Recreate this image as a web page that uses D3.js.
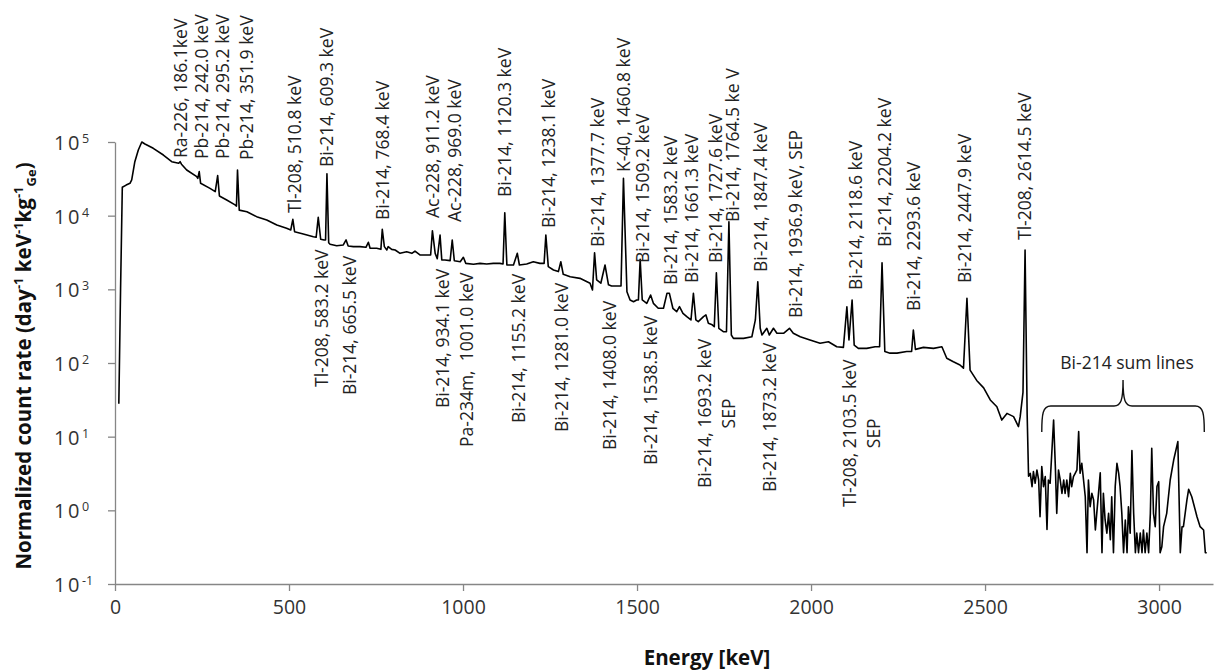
<!DOCTYPE html>
<html>
<head>
<meta charset="utf-8">
<script src="https://cdn.jsdelivr.net/npm/d3@7"></script>
<style>
  body { margin: 0; background: #fff; }
  svg { display: block; font-family: "Open Sans", sans-serif; }
</style>
</head>
<body>
<svg id="chart" width="1217" height="672"></svg>
<script>
// gamma spectrum: [energy keV, count rate]
const spectrum = [
  [11,28],[16,1000],[21,24300],[32,26000],[43,27500],[48,30500],[57,54100],[67,77900],[77,100000],[86,94000],
  [110,82100],[139,66600],[163,54100],[183,51400],[187,54100],[191,50000],[206,41700],[235,33800],[238,32100],[242,39600],
  [246,27500],[273,23500],[288,21200],[295,35000],[300,18500],[321,16300],[345,14000],[349,13500],[352,41700],[357,11900],
  [379,11300],[407,9700],[436,8740],[465,7470],[493,6740],[505,6390],[511,8900],[516,6060],[541,5640],[570,5180],
  [578,5090],[584,9500],[591,4780],[601,4680],[605,4680],[609,37000],[614,4300],[618,4100],[637,3900],[656,4000],
  [664,4680],[670,3870],[685,3800],[704,3800],[721,3720],[728,4350],[733,3610],[752,3610],[764,3490],[768,6530],
  [774,3800],[781,3420],[785,3800],[795,3490],[805,3420],[819,3080],[838,3240],[853,3080],[862,3310],[877,2920],
  [900,2920],[907,2920],[912,6250],[920,3080],[926,2600],[934,5470],[939,2500],[948,2500],[963,2450],[969,4680],
  [975,2450],[992,2370],[1001,2720],[1008,2250],[1030,2190],[1049,2250],[1068,2210],[1087,2250],[1106,2250],[1115,2210],
  [1120,10970],[1126,2140],[1145,2140],[1156,3080],[1162,2140],[1183,2210],[1202,2370],[1221,2250],[1233,2250],[1238,5470],
  [1245,2030],[1260,1830],[1274,1740],[1281,2370],[1288,1600],[1308,1480],[1336,1410],[1365,1210],[1372,980],[1378,3140],
  [1384,1340],[1396,1210],[1408,2140],[1418,1150],[1427,1110],[1447,1110],[1454,1110],[1461,32100],[1471,929],[1480,717],
  [1490,680],[1499,717],[1504,717],[1509,2560],[1515,717],[1528,645],[1539,838],[1547,645],[1561,553],[1576,553],
  [1586,883],[1593,883],[1603,553],[1614,498],[1622,581],[1632,473],[1643,426],[1655,384],[1662,883],[1669,384],
  [1676,364],[1691,426],[1698,449],[1705,346],[1716,330],[1722,311],[1728,1680],[1735,296],[1748,266],[1757,266],
  [1764,8280],[1771,240],[1777,216],[1806,216],[1830,227],[1840,384],[1847,1270],[1854,296],[1859,240],[1873,296],
  [1880,240],[1892,296],[1902,253],[1921,253],[1938,296],[1949,253],[1969,227],[1997,205],[2026,185],[2050,194],
  [2074,166],[2093,163],[2103,581],[2109,205],[2118,717],[2124,175],[2136,158],[2160,158],[2184,166],[2197,166],
  [2204,2300],[2212,143],[2227,136],[2247,136],[2275,143],[2289,143],[2294,280],[2300,153],[2323,163],[2352,158],
  [2376,166],[2390,116],[2409,104],[2428,94],[2438,85],[2448,755],[2457,80],[2476,58],[2496,46],[2515,31.5],
  [2534,25.5],[2548,16.8],[2563,20.7],[2582,18.7],[2596,13.7],[2601,18.7],[2609,40],[2615,3420],[2621,20],[2625,2.9],
  [2630,3.18],[2635,2.10],[2639,3.35],[2644,2.33],[2649,3.53],[2654,2.58],[2658,0.82],[2663,3.92],[2668,2.10],[2673,2.87],
  [2678,0.55],[2682,2.58],[2687,2.33],[2697,16.8],[2702,3.92],[2706,0.91],[2711,3.53],[2716,2.58],[2721,1.70],[2726,2.58],
  [2730,1.70],[2735,2.58],[2740,1.53],[2745,3.18],[2749,2.10],[2754,2.87],[2759,3.18],[2764,3.53],[2769,11.7],[2773,3.18],
  [2778,4.35],[2783,2.58],[2788,1.53],[2793,0.266],[2797,2.58],[2802,1.12],[2807,1.70],[2812,1.38],[2817,0.54],[2821,0.91],
  [2826,1.70],[2831,3.24],[2836,0.266],[2840,1.70],[2845,0.74],[2850,0.49],[2855,0.91],[2860,0.40],[2864,1.53],[2869,0.266],
  [2874,2.10],[2879,4.35],[2884,3.18],[2888,2.10],[2893,0.91],[2898,0.266],[2903,0.74],[2908,0.266],[2912,1.12],[2917,0.49],
  [2922,6.46],[2927,0.91],[2932,0.266],[2936,0.49],[2941,0.266],[2946,0.49],[2951,0.266],[2955,0.54],[2960,0.266],[2965,0.49],
  [2970,0.266],[2975,0.91],[2979,6.95],[2984,0.91],[2989,0.60],[2994,2.10],[2999,2.45],[3003,0.266],[3008,0.32],[3013,0.60],
  [3022,0.91],[3032,2.58],[3042,4.82],[3054,8.56],[3061,0.266],[3066,0.60],[3070,0.60],[3080,1.38],[3085,1.93],[3094,1.53],
  [3109,0.82],[3118,0.60],[3128,0.54],[3133,0.266],[3137,0.266]
]

const xTicks = [0, 500, 1000, 1500, 2000, 2500, 3000]
const yExponents = [-1, 0, 1, 2, 3, 4, 5]

// peak labels written above the trace: [text, line energy]
const labelsAbove = [
  ["Ra-226, 186.1keV", 186.1], ["Pb-214, 242.0 keV", 242.0], ["Pb-214, 295.2 keV", 295.2],
  ["Pb-214, 351.9 keV", 351.9], ["Tl-208, 510.8 keV", 510.8], ["Bi-214, 609.3 keV", 609.3],
  ["Bi-214, 768.4 keV", 768.4], ["Ac-228, 911.2 keV", 911.2], ["Ac-228, 969.0 keV", 969.0],
  ["Bi-214, 1120.3 keV", 1120.3], ["Bi-214, 1238.1 keV", 1238.1], ["Bi-214, 1377.7 keV", 1377.7],
  ["K-40, 1460.8 keV", 1460.8], ["Bi-214, 1509.2 keV", 1509.2], ["Bi-214, 1583.2 keV", 1583.2],
  ["Bi-214, 1661.3 keV", 1661.3], ["Bi-214, 1727.6 keV", 1727.6], ["Bi-214, 1764.5 ke V", 1764.5],
  ["Bi-214, 1847.4 keV", 1847.4], ["Bi-214, 1936.9 keV, SEP", 1936.9], ["Bi-214, 2118.6 keV", 2118.6],
  ["Bi-214, 2204.2 keV", 2204.2], ["Bi-214, 2293.6 keV", 2293.6], ["Bi-214, 2447.9 keV", 2447.9],
  ["Tl-208, 2614.5 keV", 2614.5]
]
// peak labels written below the trace: [text, line energy, second line]
const labelsBelow = [
  ["Tl-208, 583.2 keV", 583.2, ""], ["Bi-214, 665.5 keV", 665.5, ""], ["Bi-214, 934.1 keV", 934.1, ""],
  ["Pa-234m,  1001.0 keV", 1001.0, ""], ["Bi-214, 1155.2 keV", 1155.2, ""], ["Bi-214, 1281.0 keV", 1281.0, ""],
  ["Bi-214, 1408.0 keV", 1408.0, ""], ["Bi-214, 1538.5 keV", 1538.5, ""], ["Bi-214, 1693.2 keV", 1693.2, "SEP"],
  ["Bi-214, 1873.2 keV", 1873.2, ""], ["Tl-208, 2103.5 keV", 2103.5, "SEP"]
]
const sumLinesLabel = "Bi-214 sum lines"
const sumLinesRange = [2663, 3130]

// label layout: [x nudge px, bottom of text px]
const aboveLayout = [
  [1,158],[2.5,159],[5,159],[9,160],[2,213],[0,167],[0,220],[1,218],[2,222],[0,197],[2.5,228],[3,247],[0,172],
  [2.5,263],[5,285],[-1,283],[-1,263],[4,222],[3,272],[7,318],[3,290],[3,247],[0,311],[-2,283],[0,240]
]
const belowLayout = [
  [4,387],[3,395],[3,408],[3,447],[1.5,423],[1,432],[5,450],[0,465],[0,488],[2.5,492],[3,507]
]

const margin = { top: 142, right: 4, bottom: 88, left: 115 }
const width = 1217
const height = 672
const axisColor = "#868686"
const lblSize = 17.5

const svg = d3.select("#chart")

const x = d3.scaleLinear()
  .domain([0, 3155])
  .range([margin.left, width - margin.right])

const y = d3.scaleLog()
  .domain([0.1, 1e5])
  .range([height - margin.bottom, margin.top])

// x axis
const xAxis = svg.append("g")
  .attr("transform", `translate(0,${height - margin.bottom})`)
  .call(d3.axisBottom(x).tickValues(xTicks).tickFormat(d3.format("d")).tickSize(7).tickPadding(9).tickSizeOuter(0))
xAxis.select(".domain").attr("stroke", axisColor).attr("stroke-width", 1.3)
xAxis.selectAll("line").attr("stroke", axisColor).attr("stroke-width", 1.3)
xAxis.selectAll("text").attr("font-size", 19.5).attr("fill", "#333").attr("font-family", "Open Sans")

// y axis with 10^n labels
const yAxis = svg.append("g")
  .attr("transform", `translate(${margin.left},0)`)
  .call(d3.axisLeft(y).tickValues(yExponents.map(e => Math.pow(10, e))).tickSize(7).tickSizeOuter(0).tickFormat(""))
yAxis.select(".domain").attr("stroke", axisColor).attr("stroke-width", 1.3)
yAxis.selectAll("line").attr("stroke", axisColor).attr("stroke-width", 1.3)

const yLbl = svg.append("g").attr("fill", "#333")
yExponents.forEach(e => {
  const t = yLbl.append("text")
    .attr("x", 54)
    .attr("y", y(Math.pow(10, e)) + 8)
    .attr("font-size", 20)
  t.append("tspan").attr("letter-spacing", 2.5).text("10")
  t.append("tspan").attr("font-size", 12.5).attr("dy", -7).text(e)
})

// spectrum trace
const line = d3.line()
  .x(d => x(d[0]))
  .y(d => y(d[1]))

svg.append("path")
  .datum(spectrum)
  .attr("fill", "none")
  .attr("stroke", "#000")
  .attr("stroke-width", 1.6)
  .attr("stroke-linejoin", "round")
  .attr("d", line)

// peak labels
const lbl = svg.append("g").attr("font-size", lblSize).attr("fill", "#222")

const addLabel = (text, energy, dx, yb, second) => {
  const xc = x(energy) + dx
  const t = lbl.append("text")
    .attr("transform", `translate(${xc},${yb}) rotate(-90)`)
    .attr("dy", "0.36em")
    .attr("xml:space", "preserve")
    .style("white-space", "pre")
    .text(text)
  if (second) {
    const len = t.node().getComputedTextLength()
    lbl.append("text")
      .attr("transform", `translate(${xc + 24},${yb - len / 2}) rotate(-90)`)
      .attr("text-anchor", "middle")
      .attr("dy", "0.36em")
      .text(second)
  }
}

labelsAbove.forEach((d, i) => addLabel(d[0], d[1], aboveLayout[i][0], aboveLayout[i][1], ""))
labelsBelow.forEach((d, i) => addLabel(d[0], d[1], belowLayout[i][0], belowLayout[i][1], d[2]))

// brace over the sum lines
const xl = x(sumLinesRange[0])
const xr = x(sumLinesRange[1])
const xm = (xl + xr) / 2
const yTip = 432, yBar = 406, yCusp = 380
svg.append("path")
  .attr("fill", "none")
  .attr("stroke", "#111")
  .attr("stroke-width", 1.4)
  .attr("d", `M${xl},${yTip} C${xl},${yBar + 8} ${xl + 1},${yBar} ${xl + 9},${yBar}
    L${xm - 9},${yBar} C${xm - 2},${yBar} ${xm},${yBar - 6} ${xm},${yCusp}
    C${xm},${yBar - 6} ${xm + 2},${yBar} ${xm + 9},${yBar}
    L${xr - 9},${yBar} C${xr - 1},${yBar} ${xr},${yBar + 8} ${xr},${yTip}`)

svg.append("text")
  .attr("x", xm + 4)
  .attr("y", 369)
  .attr("text-anchor", "middle")
  .attr("font-size", 17.5)
  .attr("fill", "#222")
  .text(sumLinesLabel)

// axis titles
const yTitle = svg.append("text")
  .attr("transform", `translate(31,366) rotate(-90)`)
  .attr("text-anchor", "middle")
  .attr("font-weight", "bold")
  .attr("font-size", 20.5)
  .attr("fill", "#111")
yTitle.append("tspan").text("Normalized count rate (day")
yTitle.append("tspan").attr("font-size", 13).attr("dy", -8).text("-1")
yTitle.append("tspan").attr("dy", 8).text(" keV")
yTitle.append("tspan").attr("font-size", 13).attr("dy", -8).text("-1")
yTitle.append("tspan").attr("dy", 8).text("kg")
yTitle.append("tspan").attr("font-size", 13).attr("dy", -8).text("-1")
yTitle.append("tspan").attr("font-size", 13).attr("dy", 13).text("Ge")
yTitle.append("tspan").attr("dy", -5).text(")")

svg.append("text")
  .attr("x", 707)
  .attr("y", 665)
  .attr("text-anchor", "middle")
  .attr("font-weight", "bold")
  .attr("font-size", 20.5)
  .attr("fill", "#111")
  .text("Energy [keV]")
</script>
</body>
</html>
